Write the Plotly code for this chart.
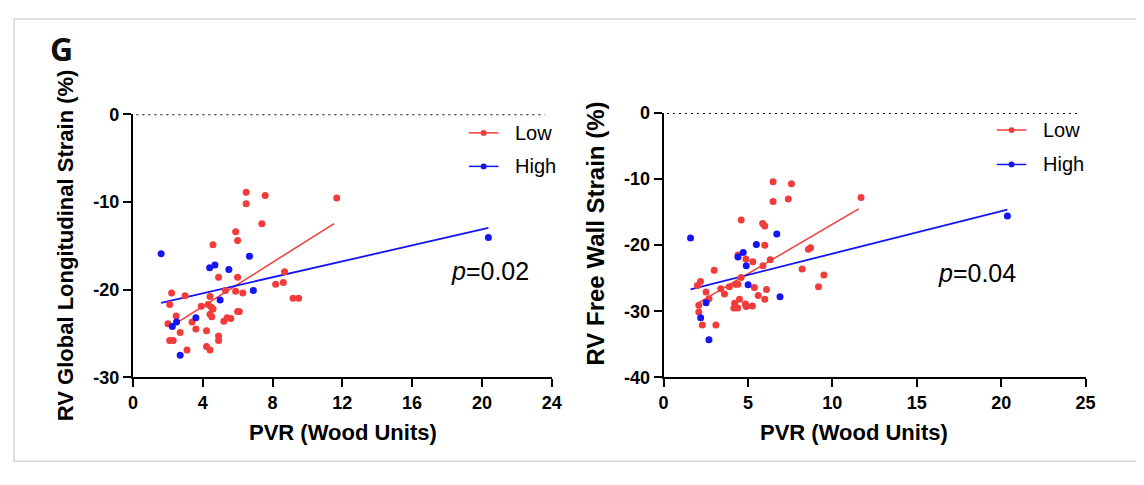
import plotly.graph_objects as go

# panel 1: RV global longitudinal strain vs PVR
gls_low_pvr = [6.49, 7.58, 6.49, 11.68, 7.39, 5.89, 6.0, 4.59, 4.91, 6.0, 8.69, 8.18, 8.62, 9.18, 9.5,
               2.22, 2.99, 2.11, 4.42, 5.3, 5.89, 6.3, 3.92, 4.31, 4.59, 2.48, 2.01, 4.42, 4.52, 3.39,
               3.61, 2.71, 4.22, 2.11, 2.31, 4.91, 4.91, 3.1, 4.22, 4.42, 5.21, 5.4, 5.61, 6.0, 6.1, 4.5]
gls_low_val = [-8.9, -9.26, -10.2, -9.55, -12.5, -13.4, -14.4, -14.9, -18.6, -18.6, -17.96, -19.4, -19.2, -21.0, -21.0,
               -20.4, -20.7, -21.7, -20.8, -20.1, -20.2, -20.4, -21.9, -21.7, -22.2, -23.0, -23.9, -22.8, -23.1, -23.7,
               -24.5, -24.9, -24.7, -25.8, -25.8, -25.3, -25.8, -26.9, -26.5, -26.9, -23.6, -23.2, -23.3, -22.5, -22.5, -22.0]
gls_high_pvr = [1.62, 4.4, 4.7, 5.5, 6.68, 6.9, 5.0, 3.61, 2.5, 2.26, 2.71, 20.37]
gls_high_val = [-15.9, -17.5, -17.2, -17.7, -16.2, -20.1, -21.2, -23.2, -23.7, -24.2, -27.5, -14.06]
gls_fit_low_x, gls_fit_low_y = [2.26, 11.53], [-24.1, -12.47]
gls_fit_high_x, gls_fit_high_y = [1.62, 20.37], [-21.5, -12.97]

# panel 2: RV free wall strain vs PVR
fws_low_pvr = [6.49, 7.58, 6.49, 7.39, 11.7, 4.6, 5.87, 6.0, 6.0, 4.41, 4.88, 5.29, 6.32, 5.89, 8.58, 8.71,
               8.21, 9.5, 9.18, 3.0, 2.19, 2.01, 2.52, 2.69, 3.39, 3.61, 3.9, 4.27, 4.41, 4.6, 5.38, 6.1,
               5.61, 6.0, 4.5, 4.21, 4.17, 4.39, 4.85, 4.9, 5.26, 2.09, 2.09, 2.3, 3.1]
fws_low_val = [-10.4, -10.7, -13.4, -13.0, -12.8, -16.2, -16.7, -17.1, -20.0, -21.5, -22.1, -22.5, -22.2, -23.1, -20.6, -20.4,
               -23.6, -24.5, -26.3, -23.8, -25.5, -26.1, -27.1, -28.1, -26.6, -27.4, -26.3, -25.9, -25.9, -24.9, -26.4, -26.7,
               -27.6, -28.2, -28.2, -28.8, -29.5, -29.5, -28.9, -29.3, -29.2, -29.1, -30.1, -32.1, -32.1]
fws_high_pvr = [1.6, 4.72, 4.41, 5.5, 6.71, 4.9, 5.01, 6.9, 2.52, 2.2, 2.69, 20.37]
fws_high_val = [-18.9, -21.1, -21.8, -19.9, -18.3, -23.1, -26.0, -27.8, -28.7, -31.0, -34.3, -15.6]
fws_fit_low_x, fws_fit_low_y = [2.01, 11.56], [-28.8, -14.5]
fws_fit_high_x, fws_fit_high_y = [1.6, 20.37], [-26.7, -14.6]

# tick labels (plain hyphen like the original, not plotly's unicode minus)
gls_yticks = [-30, -20, -10, 0]
fws_yticks = [-40, -30, -20, -10, 0]
gls_xticks = [0, 4, 8, 12, 16, 20, 24]
fws_xticks = [0, 5, 10, 15, 20, 25]

# page has an 8px body margin, so the figure is 16px smaller than the window
OFF = 8
W, H = 1144 - 2 * OFF, 485 - 2 * OFF
RED = "#F23B3B"
BLUE = "#1414F5"
BOLD = "Liberation Sans, Arial, sans-serif"


def fx(x):
    return (x - OFF) / W


def fy(y):
    return 1 - (y - OFF) / H


fig = go.Figure()


def add_panel(xa, ya, lx, ly, hx, hy, flx, fly, fhx, fhy):
    fig.add_trace(go.Scatter(x=flx, y=fly, mode="lines", line=dict(color=RED, width=1.5),
                             xaxis=xa, yaxis=ya, showlegend=False))
    fig.add_trace(go.Scatter(x=fhx, y=fhy, mode="lines", line=dict(color=BLUE, width=1.8),
                             xaxis=xa, yaxis=ya, showlegend=False))
    fig.add_trace(go.Scatter(x=lx, y=ly, mode="markers", marker=dict(color=RED, size=7),
                             xaxis=xa, yaxis=ya, showlegend=False, cliponaxis=False))
    fig.add_trace(go.Scatter(x=hx, y=hy, mode="markers", marker=dict(color=BLUE, size=7),
                             xaxis=xa, yaxis=ya, showlegend=False, cliponaxis=False))


add_panel("x", "y", gls_low_pvr, gls_low_val, gls_high_pvr, gls_high_val,
          gls_fit_low_x, gls_fit_low_y, gls_fit_high_x, gls_fit_high_y)
add_panel("x2", "y2", fws_low_pvr, fws_low_val, fws_high_pvr, fws_high_val,
          fws_fit_low_x, fws_fit_low_y, fws_fit_high_x, fws_fit_high_y)

axis_style = dict(showline=True, linecolor="black", linewidth=2, ticks="outside", ticklen=8,
                  tickwidth=2, tickcolor="black", showgrid=False, zeroline=False,
                  tickfont=dict(family=BOLD, size=18, color="black", weight="bold"))


def labels(vals):
    return [str(v) for v in vals]


fig.update_layout(
    width=W, height=H, margin=dict(l=0, r=0, t=0, b=0),
    paper_bgcolor="white", plot_bgcolor="white", showlegend=False,
    xaxis=dict(domain=[fx(129.5), fx(554)], range=[0, 24], tickvals=gls_xticks,
               ticktext=labels(gls_xticks), anchor="y", **axis_style),
    yaxis=dict(domain=[fy(383.3), fy(108.5)], range=[-30, 0], tickvals=gls_yticks,
               ticktext=labels(gls_yticks), anchor="x", **axis_style),
    xaxis2=dict(domain=[fx(667.3), fx(1095)], range=[0, 25], tickvals=fws_xticks,
                ticktext=labels(fws_xticks), anchor="y2", **axis_style),
    yaxis2=dict(domain=[fy(383.3), fy(107.3)], range=[-40, 0], tickvals=fws_yticks,
                ticktext=labels(fws_yticks), anchor="x2", **axis_style),
)

# dotted zero lines
fig.add_shape(type="line", xref="x", yref="y", x0=0.2, x1=23.6, y0=0, y1=0,
              line=dict(color="black", width=2, dash="2px,4px"))
fig.add_shape(type="line", xref="x2", yref="y2", x0=0.2, x1=24.5, y0=0, y1=0,
              line=dict(color="black", width=2, dash="2px,4px"))

# outer frame (light grey)
fig.add_shape(type="rect", xref="paper", yref="paper", x0=1 / W, x1=1.02, y0=fy(471), y1=1 - 1 / H,
              line=dict(color="#d6d6d6", width=1.5), layer="below")

# manual legends
for (x0, x1, xt, yl, yh) in [(470, 500, 515, 128, 163), (1005, 1035, 1050, 125, 161)]:
    for yy, col, name in [(yl, RED, "Low"), (yh, BLUE, "High")]:
        fig.add_shape(type="line", xref="paper", yref="paper", x0=fx(x0), x1=fx(x1), y0=fy(yy), y1=fy(yy),
                      line=dict(color=col, width=1.5))
        m = (x0 + x1) / 2
        fig.add_shape(type="circle", xref="paper", yref="paper",
                      x0=fx(m - 3), x1=fx(m + 3), y0=fy(yy + 3), y1=fy(yy - 3),
                      fillcolor=col, line=dict(color=col, width=0))
        fig.add_annotation(x=fx(xt), y=fy(yy), xref="paper", yref="paper", text=name, showarrow=False,
                           xanchor="left", yanchor="middle",
                           font=dict(family="Liberation Sans, Arial", size=20, color="black"))

# p values
for (cx, cy, txt) in [(491, 272, "<i>p</i>=0.02"), (985, 274, "<i>p</i>=0.04")]:
    fig.add_annotation(x=fx(cx), y=fy(cy), xref="paper", yref="paper", text=txt, showarrow=False,
                       xanchor="center", yanchor="middle",
                       font=dict(family="Liberation Sans, Arial", size=25, color="black"))

# axis titles
for (cx, cy, txt, size, ang) in [(62, 245, "RV Global Longitudinal Strain (%)", 22, -90),
                                 (598, 233, "RV Free Wall Strain (%)", 24, -90),
                                 (342, 441, "PVR (Wood Units)", 22, 0),
                                 (860, 441, "PVR (Wood Units)", 22, 0)]:
    fig.add_annotation(x=fx(cx), y=fy(cy), xref="paper", yref="paper", text="<b>" + txt + "</b>",
                       showarrow=False, textangle=ang, xanchor="center", yanchor="middle",
                       font=dict(family=BOLD, size=size, color="black"))

# panel letter
fig.add_annotation(x=fx(57), y=fy(40), xref="paper", yref="paper", text="<b>G</b>", showarrow=False,
                   xanchor="center", yanchor="middle",
                   font=dict(family="Open Sans, sans-serif", size=32, color="#111111"))

fig.write_html("out.html", config={"displayModeBar": False})
